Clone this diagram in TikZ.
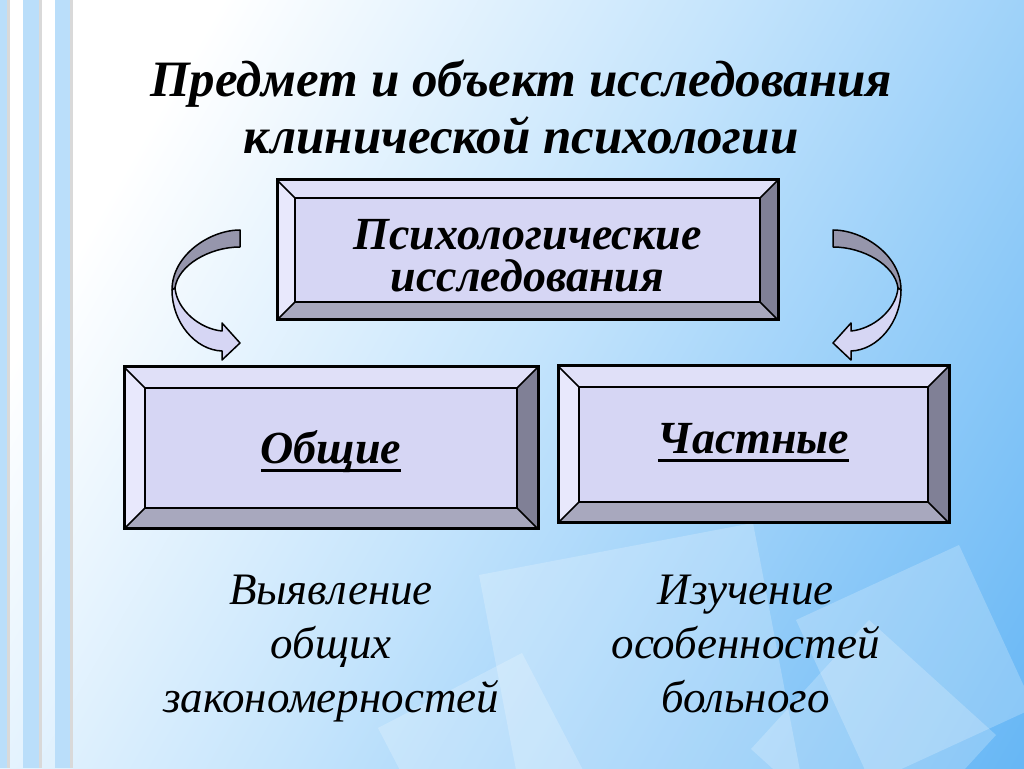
\documentclass[tikz,border=0pt]{standalone}
\usepackage{fontspec}
\setmainfont{Liberation Serif}
\usetikzlibrary{positioning,calc}

\definecolor{bvface}{RGB}{214,214,244}
\definecolor{bvtop}{RGB}{224,224,248}
\definecolor{bvleft}{RGB}{232,232,252}
\definecolor{bvright}{RGB}{128,128,150}
\definecolor{bvbottom}{RGB}{168,168,190}
\definecolor{arrback}{RGB}{150,150,172}
\definecolor{stripe}{RGB}{186,222,250}
\definecolor{bgmid}{RGB}{196,228,252}
\definecolor{bgblue}{RGB}{60,162,242}

\pgfdeclarehorizontalshading{slidebg}{100bp}{color(0bp)=(white); color(26bp)=(white); color(50bp)=(bgmid); color(100bp)=(bgblue)}

% raised frame round a face node: #1 node, #2 bevel depth
\newcommand{\bevelframe}[2]{%
  \fill[bvtop] (#1.north west) -- ++(-#2,#2) -- ($(#1.north east)+(#2,#2)$) -- (#1.north east) -- cycle;
  \fill[bvbottom] (#1.south west) -- ++(-#2,-#2) -- ($(#1.south east)+(#2,-#2)$) -- (#1.south east) -- cycle;
  \fill[bvleft] (#1.north west) -- ++(-#2,#2) -- ($(#1.south west)+(-#2,-#2)$) -- (#1.south west) -- cycle;
  \fill[bvright] (#1.north east) -- ++(#2,#2) -- ($(#1.south east)+(#2,-#2)$) -- (#1.south east) -- cycle;
  \draw[line width=1.5pt] (#1.north west) -- ++(-#2,#2) (#1.north east) -- ++(#2,#2)
        (#1.south west) -- ++(-#2,-#2) (#1.south east) -- ++(#2,-#2);
  \draw[line width=2pt] (#1.north west) rectangle (#1.south east);
  \draw[line width=3pt] ($(#1.north west)+(-#2,#2)$) rectangle ($(#1.south east)+(#2,-#2)$);
}
\newcommand{\ulword}[1]{\leavevmode\setbox0=\hbox{#1}\rlap{\rule[-8pt]{\wd0}{3pt}}\box0}

\tikzset{
  twist/.pic={
    \filldraw[fill=arrback, line width=1.5pt, line join=round]
      (0,0) .. controls (-30,0) and (-68,-25) .. (-68,-60) -- (-65,-58)
      .. controls (-62,-35) and (-30,-17) .. (0,-17) -- cycle;
    \filldraw[fill=bvface, line width=1.5pt, line join=round]
      (-68,-60) .. controls (-68,-92) and (-45,-120) .. (-18,-121) -- (-18,-130)
      -- (0,-113) -- (-18,-93) -- (-18,-101)
      .. controls (-40,-99) and (-63,-80) .. (-65,-58) -- cycle;
  }
}

\begin{document}
\begin{tikzpicture}[x=1pt,y=1pt,
    face/.style={draw=black, line width=2pt, fill=bvface, inner sep=0pt, outer sep=0pt,
      font=\fontsize{46}{42}\selectfont\bfseries\itshape, align=center},
    headline/.style={font=\fontsize{51}{57}\selectfont\bfseries\itshape, align=center, inner sep=0pt},
    note/.style={font=\fontsize{45}{54}\selectfont\itshape, align=center, inner sep=0pt},
    glass/.style={fill=white, fill opacity=0.22}]

\useasboundingbox (0,0) rectangle (1024,768);
\begin{scope}
  \clip (0,0) rectangle (1024,768);
  \shade[shading=slidebg, shading angle=-30] (0,0) rectangle (1024,768);
  % glass squares
  \fill[glass] (479,193) -- (753,245) -- (805,-29) -- (531,-81) -- cycle;
  \fill[glass] (959,223) -- (1034,60) -- (871,-15) -- (796,148) -- cycle;
  \fill[glass] (869,148) -- (996,33) -- (878,-96) -- (751,19) -- cycle;
  \fill[glass] (522,115) -- (597,-29) -- (453,-104) -- (378,40) -- cycle;
  % stripes
  \foreach \a/\b in {0/7, 23/39, 55/70} {
    \fill[stripe] (\a,0) rectangle (\b,768);
    \fill[black!15] (\b,0) rectangle (\b+3,768);
  }
\end{scope}

\node[headline, anchor=north] (title) at (521,708) {Предмет и объект исследования\\клинической психологии};

\node[face, minimum width=465pt, minimum height=104pt, text height=94pt, text depth=10pt]
  (psy) at (527.5,518) {Психологические\\исследования};
\node[face, minimum width=372pt, minimum height=120pt, text height=42pt, text depth=10pt]
  (gen) at (331,320) {\ulword{Общие}};
\node[face, minimum width=349pt, minimum height=115pt, text height=29pt, text depth=10pt]
  (part) at (753.5,323.5) {\ulword{Частные}};
\bevelframe{psy}{18}
\bevelframe{gen}{21}
\bevelframe{part}{21}

\pic (toGen) at (240,538) {twist};
\pic[xscale=-1] (toPart) at (833,538) {twist};

\node[note, below=67pt of gen] (genNote) {Выявление\\общих\\закономерностей};
\node[note, below=73pt of part, xshift=-8pt] (partNote) {Изучение\\особенностей\\больного};
\end{tikzpicture}
\end{document}
